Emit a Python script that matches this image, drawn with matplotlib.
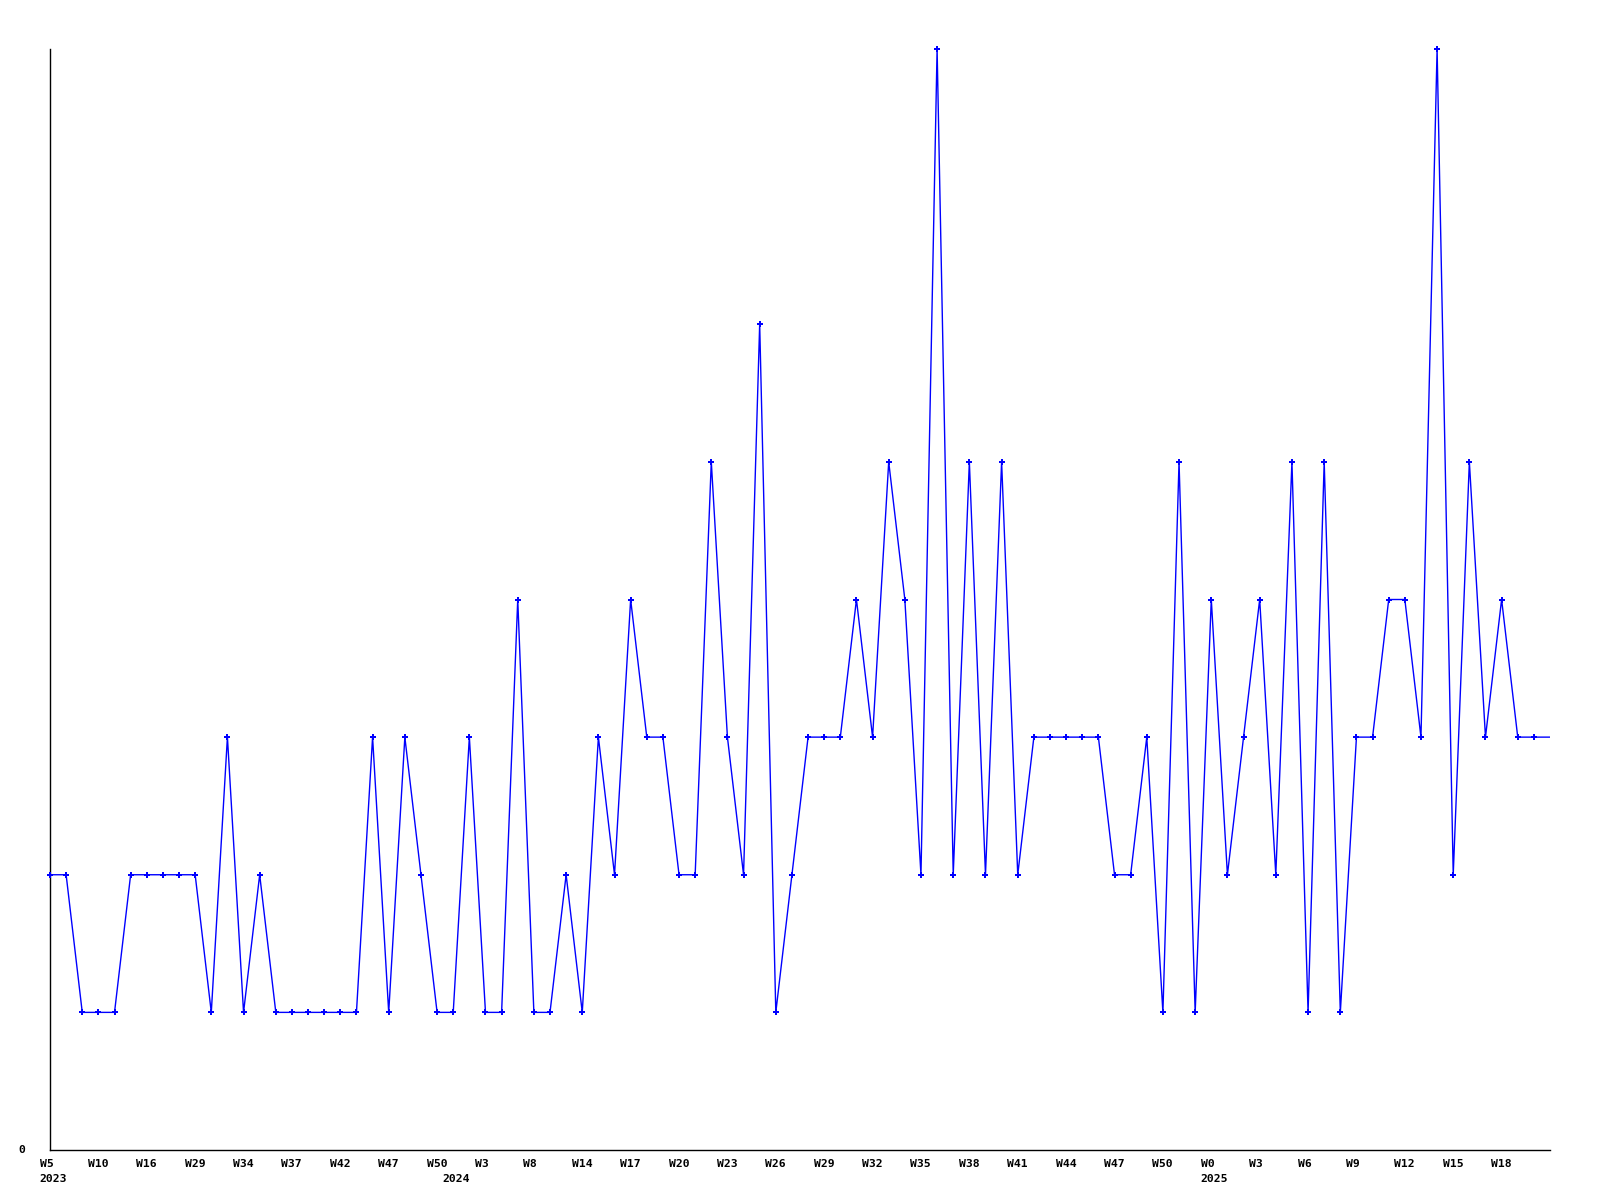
import matplotlib
matplotlib.use("Agg")
import matplotlib.pyplot as plt
import matplotlib.transforms as mtransforms

values = [2, 2, 1, 1, 1, 2, 2, 2, 2, 2,
          1, 3, 1, 2, 1, 1, 1, 1, 1, 1,
          3, 1, 3, 2, 1, 1, 3, 1, 1, 4,
          1, 1, 2, 1, 3, 2, 4, 3, 3, 2,
          2, 5, 3, 2, 6, 1, 2, 3, 3, 3,
          4, 3, 5, 4, 2, 8, 2, 5, 2, 5,
          2, 3, 3, 3, 3, 3, 2, 2, 3, 1,
          5, 1, 4, 2, 3, 4, 2, 5, 1, 5,
          1, 3, 3, 4, 4, 3, 8, 2, 5, 3,
          4, 3, 3, 3]

tick_labels = ["W5", "W10", "W16", "W29", "W34", "W37", "W42", "W47", "W50", "W3",
               "W8", "W14", "W17", "W20", "W23", "W26", "W29", "W32", "W35", "W38",
               "W41", "W44", "W47", "W50", "W0", "W3", "W6", "W9", "W12", "W15", "W18"]
tick_step = 3

year_labels = ["2023", "2024", "2025"]
year_index = [0, 25, 72]

n_marked = 93  # last value continues the line to the edge without a marker

fig = plt.figure(figsize=(16, 12), dpi=100)
ax = fig.add_axes([50 / 1600, 50 / 1200, 1500 / 1600, 1101 / 1200])

x = list(range(len(values)))
ax.plot(x, values, color=(0, 0, 1), linewidth=1.0, zorder=2)
ax.plot(x[:n_marked], values[:n_marked], linestyle="none", marker="P",
        markersize=4.6, color=(0, 0, 1), markeredgewidth=0, zorder=3, clip_on=False)

ax.set_xlim(0, len(values) - 1)
ax.set_ylim(0, 8)

for s in ["top", "right"]:
    ax.spines[s].set_visible(False)
for s in ["left", "bottom"]:
    ax.spines[s].set_color("black")
    ax.spines[s].set_linewidth(1.0)

ax.set_xticks([])
ax.set_yticks([])

font = dict(family="DejaVu Sans Mono", weight="bold", size=8.2, color="black")

trans = mtransforms.blended_transform_factory(ax.transData, ax.transAxes)
off = mtransforms.ScaledTranslation(-10.5 / 100, 0, fig.dpi_scale_trans)
for i, lab in enumerate(tick_labels):
    ax.text(i * tick_step, 0, lab, transform=trans + off + mtransforms.ScaledTranslation(0, -9 / 100, fig.dpi_scale_trans),
            ha="left", va="top", **font)
for idx, lab in zip(year_index, year_labels):
    ax.text(idx, 0, lab, transform=trans + off + mtransforms.ScaledTranslation(0, -24 / 100, fig.dpi_scale_trans),
            ha="left", va="top", **font)

ax.text(0, 0, "0", transform=ax.transData + mtransforms.ScaledTranslation(-25 / 100, 0, fig.dpi_scale_trans),
        ha="right", va="center", **font)

fig.savefig("out.png", dpi=100, facecolor="white")
